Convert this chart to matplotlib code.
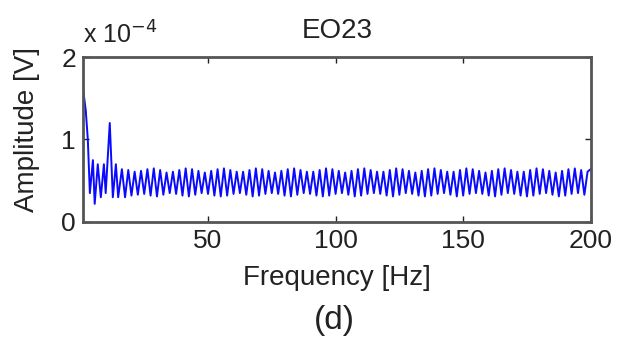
import numpy as np
import matplotlib
matplotlib.use("Agg")
import matplotlib.pyplot as plt

plt.rcParams['font.family'] = ['Liberation Sans', 'DejaVu Sans']

# Low-frequency part of the spectrum (Hz, amplitude in 1e-4 V)
freq_head = [1.0, 2.1, 2.9, 3.7, 4.9, 5.6, 6.8, 8.0, 9.2, 9.9, 11.5, 12.7, 13.9, 14.8]
amp_head = [1.62, 1.35, 1.00, 0.35, 0.75, 0.22, 0.70, 0.30, 0.70, 0.35, 1.20, 0.30, 0.70, 0.30]

# Remaining spectrum on a 1.25 Hz grid from 16.25 Hz to 200 Hz
freq_tail = np.arange(16.25, 200.001, 1.25)
amp_tail = [
    0.64, 0.30, 0.63, 0.32, 0.61, 0.33, 0.62, 0.34, 0.64, 0.32,
    0.65, 0.31, 0.63, 0.33, 0.60, 0.35, 0.61, 0.34, 0.63, 0.32,
    0.65, 0.31, 0.64, 0.33, 0.62, 0.35, 0.60, 0.34, 0.62, 0.32,
    0.64, 0.31, 0.65, 0.32, 0.63, 0.34, 0.61, 0.35, 0.61, 0.33,
    0.63, 0.31, 0.65, 0.32, 0.64, 0.34, 0.62, 0.35, 0.60, 0.34,
    0.62, 0.32, 0.64, 0.31, 0.65, 0.33, 0.63, 0.35, 0.61, 0.34,
    0.61, 0.32, 0.63, 0.31, 0.65, 0.32, 0.64, 0.34, 0.62, 0.35,
    0.60, 0.33, 0.62, 0.31, 0.64, 0.32, 0.65, 0.34, 0.63, 0.35,
    0.61, 0.34, 0.61, 0.32, 0.63, 0.31, 0.65, 0.33, 0.64, 0.35,
    0.62, 0.34, 0.60, 0.32, 0.62, 0.31, 0.64, 0.32, 0.65, 0.34,
    0.63, 0.35, 0.61, 0.33, 0.61, 0.31, 0.63, 0.32, 0.65, 0.34,
    0.64, 0.35, 0.62, 0.34, 0.60, 0.32, 0.62, 0.31, 0.64, 0.33,
    0.65, 0.35, 0.63, 0.34, 0.61, 0.32, 0.61, 0.31, 0.63, 0.32,
    0.65, 0.34, 0.64, 0.35, 0.62, 0.33, 0.60, 0.31, 0.62, 0.32,
    0.64, 0.34, 0.65, 0.35, 0.63, 0.33, 0.61, 0.64,
]

x_ticks = [50, 100, 150, 200]
y_ticks = [0, 1, 2]

freq = np.concatenate([freq_head, freq_tail])
amp = np.concatenate([amp_head, amp_tail[:len(freq_tail)]])

text_color = '#222222'
fig = plt.figure(figsize=(6.3, 3.43), dpi=100)
ax = fig.add_axes([0.1317, 0.3528, 0.806, 0.481])

ax.plot(freq, amp, color='#0a0aff', linewidth=1.4)

ax.set_xlim(1, 200)
ax.set_ylim(0, 2)
ax.set_xticks(x_ticks)
ax.set_yticks(y_ticks)
ax.tick_params(direction='in', length=4, width=1, colors=text_color,
               labelsize=19, top=True, right=True, pad=5)
for s in ax.spines.values():
    s.set_color('#555555')
    s.set_linewidth(2)

ax.set_title('EO23', fontsize=20, color=text_color, pad=14)
ax.set_xlabel('Frequency [Hz]', fontsize=20, color=text_color, labelpad=9)
ax.set_ylabel('Amplitude [V]', fontsize=20, color=text_color)
ax.yaxis.set_label_coords(-0.085, 0.56)
ax.text(0.0, 1.05, r'x 10$^{-4}$', transform=ax.transAxes, fontsize=18,
        color=text_color, ha='left', va='bottom')
fig.text(0.53, 0.02, '(d)', fontsize=24, color=text_color, ha='center', va='bottom')

fig.savefig('out.png', dpi=100)
